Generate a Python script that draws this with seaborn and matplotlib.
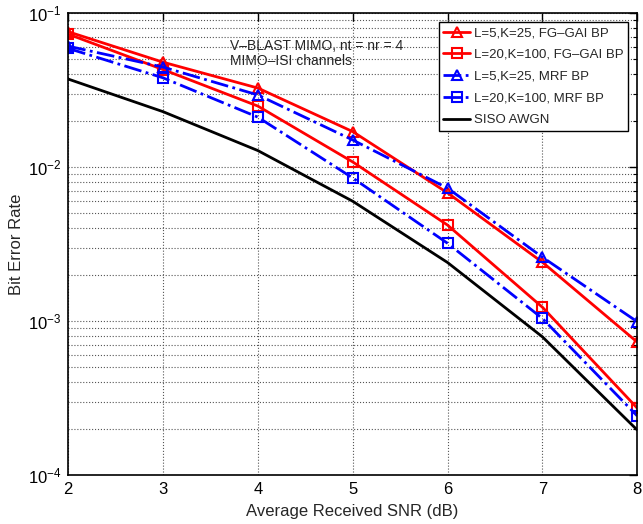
import numpy as np
import pandas as pd
import seaborn as sns
import matplotlib
matplotlib.use("Agg")
import matplotlib.pyplot as plt
from matplotlib.ticker import LogLocator, NullFormatter

snr = [2, 3, 4, 5, 6, 7, 8]
fg_l5 = [0.0757, 0.048, 0.0326, 0.0170, 0.0068, 0.00241, 0.00073]
fg_l20 = [0.073, 0.043, 0.0249, 0.0108, 0.0042, 0.00123, 0.000272]
mrf_l5 = [0.061, 0.0446, 0.0294, 0.0150, 0.0073, 0.0026, 0.00099]
mrf_l20 = [0.059, 0.038, 0.0211, 0.0085, 0.0032, 0.00104, 0.000242]
siso = [0.0373, 0.0229, 0.0128, 0.0060, 0.0024, 0.00079, 0.000196]

labels = ["L=5,K=25, FG\u2013GAI BP", "L=20,K=100, FG\u2013GAI BP",
          "L=5,K=25, MRF BP", "L=20,K=100, MRF BP", "SISO AWGN"]

sns.set_style("white")
plt.rcParams['font.family'] = ['Liberation Sans', 'DejaVu Sans']

fig = plt.figure(figsize=(6.43, 5.24), dpi=100)
ax = fig.add_axes([0.106, 0.0935, 0.885, 0.8815])

styles = [
    (fg_l5, 'red', '-', '^'),
    (fg_l20, 'red', '-', 's'),
    (mrf_l5, 'blue', '-.', '^'),
    (mrf_l20, 'blue', '-.', 's'),
    (siso, 'black', '-', None),
]
for (vals, col, ls, mk), lab in zip(styles, labels):
    df = pd.DataFrame({"snr": snr, "ber": vals})
    kw = dict(marker=mk, markersize=7, markerfacecolor='none',
              markeredgecolor=col, markeredgewidth=1.5) if mk else {}
    sns.lineplot(data=df, x="snr", y="ber", ax=ax, color=col, linestyle=ls,
                 linewidth=2, label=lab, **kw)

ax.set_yscale('log')
ax.set_xlim(2, 8)
ax.set_ylim(1e-4, 1e-1)
ax.set_xticks(snr)
ax.yaxis.set_major_locator(LogLocator(base=10, numticks=10))
ax.yaxis.set_minor_locator(LogLocator(base=10, subs=np.arange(2, 10), numticks=10))
ax.yaxis.set_minor_formatter(NullFormatter())
ax.grid(True, which='major', axis='x', linestyle=':', color='#555555', linewidth=0.8)
ax.grid(True, which='both', axis='y', linestyle=':', color='#555555', linewidth=0.8)
ax.tick_params(axis='both', which='both', direction='in', top=True, right=True,
               labelsize=12, colors='black')
ax.tick_params(which='major', length=6, width=1, pad=5)
ax.tick_params(which='minor', length=3, width=0.8)
for s in ax.spines.values():
    s.set_color('black')
    s.set_linewidth(1.2)

ax.set_xlabel("Average Received SNR (dB)", fontsize=12)
ax.xaxis.set_label_coords(0.5, -0.062)
ax.set_ylabel("Bit Error Rate", fontsize=12)
ax.yaxis.set_label_coords(-0.077, 0.5)

ax.text(0.285, 0.945, "V\u2013BLAST MIMO, nt = nr = 4\nMIMO\u2013ISI channels",
        transform=ax.transAxes, fontsize=10, va='top', ha='left', linespacing=1.15)

leg = ax.legend(loc='upper right', frameon=True, fancybox=False,
                edgecolor='black', framealpha=1, handlelength=2.0,
                handletextpad=0.3, borderpad=0.35, labelspacing=0.72,
                borderaxespad=0.7, prop={'size': 9.5})
leg.get_frame().set_linewidth(1.0)

fig.savefig("out.png", dpi=100)
